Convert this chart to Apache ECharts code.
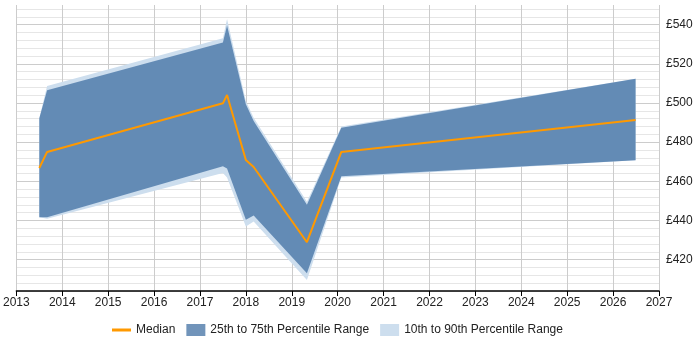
<!DOCTYPE html>
<html>
<head>
<meta charset="utf-8">
<script src="https://cdn.jsdelivr.net/npm/echarts@6/dist/echarts.min.js"></script>
<style>
  html, body { margin: 0; padding: 0; background: #fff; }
  #chart { width: 700px; height: 350px; }
</style>
</head>
<body>
<div id="chart"></div>
<script>
// dates as fractional years, rates in £
var dates  = [2013.50, 2013.67, 2017.50, 2017.59, 2018.00, 2018.17, 2019.33, 2020.08, 2026.49];
var median = [466.8, 475.0, 499.8, 504.1, 470.9, 467.3, 428.9, 475.0, 491.3];
var p10    = [441.7, 440.9, 464.3, 462.0, 436.9, 439.5, 409.6, 462.0, 470.8];
var p25    = [441.7, 441.7, 467.7, 466.5, 440.4, 442.6, 413.0, 462.6, 470.8];
var p75    = [492.2, 506.5, 530.9, 539.5, 499.3, 490.8, 448.0, 487.3, 512.3];
var p90    = [492.2, 508.7, 533.0, 542.9, 501.0, 492.5, 449.5, 488.0, 512.3];

var darkBand = 'rgba(58,107,160,0.72)';
var lightBand = 'rgb(205,222,238)';

function bandData(lo, hi) {
	return dates.map(function (d, i) { return [d, lo[i], hi[i]]; });
}

// draws the whole band as one polygon, using the axis scales
function bandSeries(name, lo, hi, color, z) {
	return {
		name: name,
		type: 'custom',
		z: z,
		itemStyle: { color: color },
		encode: { x: 0, y: [1, 2] },
		data: bandData(lo, hi),
		renderItem: function (params, api) {
			if (params.dataIndex !== 0) return;
			var top = [], bottom = [];
			for (var i = 0; i < dates.length; i++) {
				top.push(api.coord([dates[i], hi[i]]));
				bottom.unshift(api.coord([dates[i], lo[i]]));
			}
			return {
				type: 'polygon',
				shape: { points: top.concat(bottom) },
				style: { fill: color }
			};
		}
	};
}

var myChart = echarts.init(document.getElementById('chart'));
myChart.setOption({
	animation: false,
	textStyle: { fontFamily: 'Liberation Sans, Arial, sans-serif' },
	grid: { left: 16, right: 41, top: 5, bottom: 59 },
	legend: {
		bottom: 9,
		left: 107,
		itemWidth: 19,
		itemHeight: 12,
		itemGap: 11,
		textStyle: { fontSize: 12, color: '#222' },
		data: [
			{ name: 'Median', icon: 'path://M0,0L0.01,0L0.01,12L0,12Z M0,4.5L20,4.5L20,7.5L0,7.5Z' },
			{ name: '25th to 75th Percentile Range', icon: 'rect' },
			{ name: '10th to 90th Percentile Range', icon: 'rect' }
		]
	},
	xAxis: {
		type: 'value',
		min: 2013,
		max: 2027,
		interval: 1,
		axisLine: { lineStyle: { color: '#000', width: 1.5 } },
		axisTick: { length: 5, lineStyle: { color: '#000' } },
		axisLabel: { color: '#222', fontSize: 12, margin: 6, formatter: function (v) { return String(v); } },
		splitLine: { show: true, lineStyle: { color: '#cccccc' } }
	},
	yAxis: {
		type: 'value',
		position: 'right',
		min: 404,
		max: 550,
		interval: 4,
		axisLine: { show: false },
		axisTick: { show: false },
		axisLabel: {
			color: '#222',
			fontSize: 12,
			margin: 7,
			formatter: function (v) { return v % 20 === 0 ? '£' + v : ''; }
		},
		splitLine: {
			show: true,
			showMaxLine: false,
			lineStyle: { color: ['#e6e6e6', '#e6e6e6', '#e6e6e6', '#e6e6e6', '#cccccc'] }
		}
	},
	series: [
		bandSeries('10th to 90th Percentile Range', p10, p90, lightBand, 1),
		bandSeries('25th to 75th Percentile Range', p25, p75, darkBand, 2),
		{
			name: 'Median',
			type: 'line',
			symbol: 'none',
			itemStyle: { color: '#ff9900' },
			lineStyle: { color: '#ff9900', width: 2 },
			z: 5,
			data: dates.map(function (d, i) { return [d, median[i]]; })
		}
	]
});
</script>
</body>
</html>
